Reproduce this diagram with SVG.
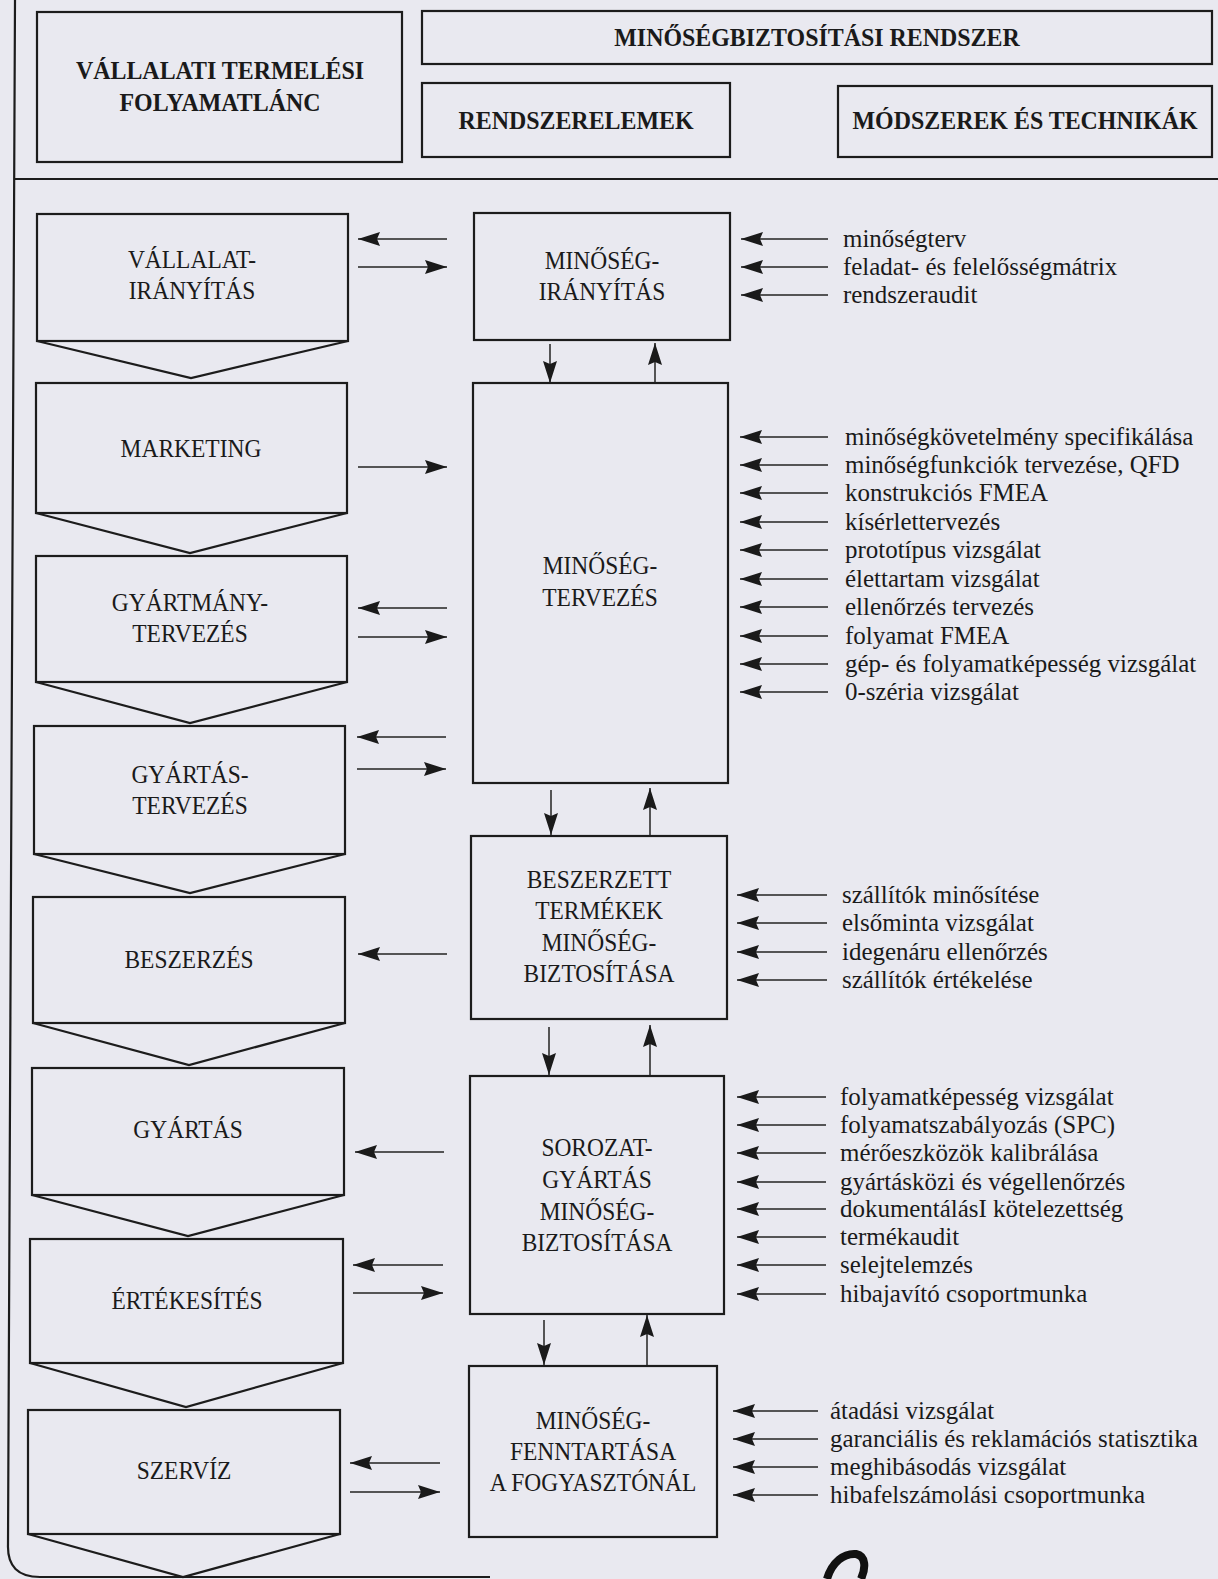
<svg xmlns="http://www.w3.org/2000/svg" width="1218" height="1579" viewBox="0 0 1218 1579">
<style>
.bg{fill:#e9e9f0}
.box{fill:none;stroke:#1c1c1c;stroke-width:2.2}
.ln{fill:none;stroke:#222;stroke-width:1.5}
.fr{fill:none;stroke:#1c1c1c;stroke-width:2.2}
.t{font-family:"Liberation Serif","Times New Roman",serif;font-size:25.5px;fill:#1a1a1a;text-anchor:middle;transform-box:fill-box;transform-origin:center;transform:scaleX(0.92)}
.h{font-weight:bold;font-size:26px}
.m{font-family:"Liberation Serif","Times New Roman",serif;font-size:26px;fill:#1a1a1a;transform-box:fill-box;transform-origin:left center;transform:scaleX(0.96)}
</style>
<defs>
<marker id="a" viewBox="0 0 22 14" refX="22" refY="7" markerWidth="22" markerHeight="14" markerUnits="userSpaceOnUse" orient="auto">
<path d="M0,0 L22,7 L0,14 L3,7 z" fill="#1a1a1a"/>
</marker>
</defs>
<rect class="bg" x="0" y="0" width="1218" height="1579"/>

<g id="frame">
<path class="fr" d="M15,0 L8,1545 Q7,1577 40,1577 L490,1577"/>
<line class="fr" x1="15" y1="179" x2="1218" y2="179"/>
</g>

<g id="header-chain">
<rect class="box" x="37" y="12" width="365" height="150"/>
<text class="t h" x="220" y="79">VÁLLALATI TERMELÉSI</text>
<text class="t h" x="220" y="111">FOLYAMATLÁNC</text>
</g>
<g id="header-system">
<rect class="box" x="422" y="11" width="790" height="53"/>
<text class="t h" x="817" y="46">MINŐSÉGBIZTOSÍTÁSI RENDSZER</text>
</g>
<g id="header-elements">
<rect class="box" x="422" y="83" width="308" height="74"/>
<text class="t h" x="576" y="129">RENDSZERELEMEK</text>
</g>
<g id="header-methods">
<rect class="box" x="838" y="86" width="374" height="71"/>
<text class="t h" x="1025" y="129">MÓDSZEREK ÉS TECHNIKÁK</text>
</g>

<g id="chain-vallalatiranyitas">
<rect class="box" x="37" y="214" width="311" height="127"/>
<polyline class="box" points="37,341 191,378 348,341"/>
<text class="t" x="192" y="268">VÁLLALAT-</text>
<text class="t" x="192" y="299">IRÁNYÍTÁS</text>
</g>
<g id="chain-marketing">
<rect class="box" x="36" y="383" width="311" height="130"/>
<polyline class="box" points="36,513 190,553 347,513"/>
<text class="t" x="191" y="457">MARKETING</text>
</g>
<g id="chain-gyartmanytervezes">
<rect class="box" x="36" y="556" width="311" height="126"/>
<polyline class="box" points="36,682 190,723 347,682"/>
<text class="t" x="190" y="611">GYÁRTMÁNY-</text>
<text class="t" x="190" y="642">TERVEZÉS</text>
</g>
<g id="chain-gyartastervezes">
<rect class="box" x="34" y="726" width="311" height="128"/>
<polyline class="box" points="34,854 190,893 345,854"/>
<text class="t" x="190" y="783">GYÁRTÁS-</text>
<text class="t" x="190" y="814">TERVEZÉS</text>
</g>
<g id="chain-beszerzes">
<rect class="box" x="33" y="897" width="312" height="126"/>
<polyline class="box" points="33,1023 189,1065 345,1023"/>
<text class="t" x="189" y="968">BESZERZÉS</text>
</g>
<g id="chain-gyartas">
<rect class="box" x="32" y="1068" width="312" height="127"/>
<polyline class="box" points="32,1195 188,1236 344,1195"/>
<text class="t" x="188" y="1138">GYÁRTÁS</text>
</g>
<g id="chain-ertekesites">
<rect class="box" x="30" y="1239" width="313" height="124"/>
<polyline class="box" points="30,1363 186,1407 343,1363"/>
<text class="t" x="187" y="1309">ÉRTÉKESÍTÉS</text>
</g>
<g id="chain-szerviz">
<rect class="box" x="28" y="1410" width="312" height="124"/>
<polyline class="box" points="28,1534 183,1577 340,1534"/>
<text class="t" x="184" y="1479">SZERVÍZ</text>
</g>

<g id="elem-minosegiranyitas">
<rect class="box" x="474" y="213" width="256" height="127"/>
<text class="t" x="602" y="269">MINŐSÉG-</text>
<text class="t" x="602" y="300">IRÁNYÍTÁS</text>
</g>
<g id="elem-minosegtervezes">
<rect class="box" x="473" y="383" width="255" height="400"/>
<text class="t" x="600" y="574">MINŐSÉG-</text>
<text class="t" x="600" y="606">TERVEZÉS</text>
</g>
<g id="elem-beszerzett">
<rect class="box" x="471" y="836" width="256" height="183"/>
<text class="t" x="599" y="888">BESZERZETT</text>
<text class="t" x="599" y="919">TERMÉKEK</text>
<text class="t" x="599" y="951">MINŐSÉG-</text>
<text class="t" x="599" y="982">BIZTOSÍTÁSA</text>
</g>
<g id="elem-sorozatgyartas">
<rect class="box" x="470" y="1076" width="254" height="238"/>
<text class="t" x="597" y="1156">SOROZAT-</text>
<text class="t" x="597" y="1188">GYÁRTÁS</text>
<text class="t" x="597" y="1220">MINŐSÉG-</text>
<text class="t" x="597" y="1251">BIZTOSÍTÁSA</text>
</g>
<g id="elem-fogyasztonal">
<rect class="box" x="469" y="1366" width="248" height="171"/>
<text class="t" x="593" y="1429">MINŐSÉG-</text>
<text class="t" x="593" y="1460">FENNTARTÁSA</text>
<text class="t" x="593" y="1491">A FOGYASZTÓNÁL</text>
</g>

<g id="methods-1">
<text class="m" x="843" y="247">minőségterv</text>
<text class="m" x="843" y="275">feladat- és felelősségmátrix</text>
<text class="m" x="843" y="303">rendszeraudit</text>
</g>
<g id="methods-2">
<text class="m" x="845" y="445">minőségkövetelmény specifikálása</text>
<text class="m" x="845" y="473">minőségfunkciók tervezése, QFD</text>
<text class="m" x="845" y="501">konstrukciós FMEA</text>
<text class="m" x="845" y="530">kísérlettervezés</text>
<text class="m" x="845" y="558">prototípus vizsgálat</text>
<text class="m" x="845" y="587">élettartam vizsgálat</text>
<text class="m" x="845" y="615">ellenőrzés tervezés</text>
<text class="m" x="845" y="644">folyamat FMEA</text>
<text class="m" x="845" y="672">gép- és folyamatképesség vizsgálat</text>
<text class="m" x="845" y="700">0-széria vizsgálat</text>
</g>
<g id="methods-3">
<text class="m" x="842" y="903">szállítók minősítése</text>
<text class="m" x="842" y="931">elsőminta vizsgálat</text>
<text class="m" x="842" y="960">idegenáru ellenőrzés</text>
<text class="m" x="842" y="988">szállítók értékelése</text>
</g>
<g id="methods-4">
<text class="m" x="840" y="1105">folyamatképesség vizsgálat</text>
<text class="m" x="840" y="1133">folyamatszabályozás (SPC)</text>
<text class="m" x="840" y="1161">mérőeszközök kalibrálása</text>
<text class="m" x="840" y="1190">gyártásközi és végellenőrzés</text>
<text class="m" x="840" y="1217">dokumentálásI kötelezettség</text>
<text class="m" x="840" y="1245">termékaudit</text>
<text class="m" x="840" y="1273">selejtelemzés</text>
<text class="m" x="840" y="1302">hibajavító csoportmunka</text>
</g>
<g id="methods-5">
<text class="m" x="830" y="1419">átadási vizsgálat</text>
<text class="m" x="830" y="1447">garanciális és reklamációs statisztika</text>
<text class="m" x="830" y="1475">meghibásodás vizsgálat</text>
<text class="m" x="830" y="1503">hibafelszámolási csoportmunka</text>
</g>

<g id="connectors" class="ln" marker-end="url(#a)">
<line x1="447" y1="239" x2="358" y2="239"/>
<line x1="358" y1="267" x2="447" y2="267"/>
<line x1="358" y1="467" x2="447" y2="467"/>
<line x1="447" y1="608" x2="358" y2="608"/>
<line x1="358" y1="637" x2="447" y2="637"/>
<line x1="446" y1="737" x2="357" y2="737"/>
<line x1="357" y1="769" x2="446" y2="769"/>
<line x1="447" y1="954" x2="358" y2="954"/>
<line x1="444" y1="1152" x2="355" y2="1152"/>
<line x1="443" y1="1265" x2="353" y2="1265"/>
<line x1="353" y1="1293" x2="443" y2="1293"/>
<line x1="440" y1="1463" x2="350" y2="1463"/>
<line x1="350" y1="1492" x2="440" y2="1492"/>

<line x1="550" y1="344" x2="550" y2="383"/>
<line x1="655" y1="383" x2="655" y2="343"/>
<line x1="551" y1="790" x2="551" y2="835"/>
<line x1="650" y1="835" x2="650" y2="788"/>
<line x1="549" y1="1027" x2="549" y2="1075"/>
<line x1="650" y1="1075" x2="650" y2="1025"/>
<line x1="544" y1="1320" x2="544" y2="1365"/>
<line x1="647" y1="1365" x2="647" y2="1315"/>

<line x1="828" y1="239" x2="741" y2="239"/>
<line x1="828" y1="267" x2="741" y2="267"/>
<line x1="828" y1="295" x2="741" y2="295"/>

<line x1="828" y1="437" x2="740" y2="437"/>
<line x1="828" y1="465" x2="740" y2="465"/>
<line x1="828" y1="493" x2="740" y2="493"/>
<line x1="828" y1="522" x2="740" y2="522"/>
<line x1="828" y1="550" x2="740" y2="550"/>
<line x1="828" y1="579" x2="740" y2="579"/>
<line x1="828" y1="607" x2="740" y2="607"/>
<line x1="828" y1="636" x2="740" y2="636"/>
<line x1="828" y1="664" x2="740" y2="664"/>
<line x1="828" y1="692" x2="740" y2="692"/>

<line x1="827" y1="895" x2="737" y2="895"/>
<line x1="827" y1="923" x2="737" y2="923"/>
<line x1="827" y1="952" x2="737" y2="952"/>
<line x1="827" y1="980" x2="737" y2="980"/>

<line x1="826" y1="1097" x2="737" y2="1097"/>
<line x1="826" y1="1125" x2="737" y2="1125"/>
<line x1="826" y1="1153" x2="737" y2="1153"/>
<line x1="826" y1="1182" x2="737" y2="1182"/>
<line x1="826" y1="1209" x2="737" y2="1209"/>
<line x1="826" y1="1237" x2="737" y2="1237"/>
<line x1="826" y1="1265" x2="737" y2="1265"/>
<line x1="826" y1="1294" x2="737" y2="1294"/>

<line x1="818" y1="1411" x2="733" y2="1411"/>
<line x1="818" y1="1439" x2="733" y2="1439"/>
<line x1="818" y1="1467" x2="733" y2="1467"/>
<line x1="818" y1="1495" x2="733" y2="1495"/>
</g>

<path d="M827,1579 C832,1562 844,1553 856,1554 C866,1556 866,1568 861,1579" fill="none" stroke="#111" stroke-width="8"/>
</svg>
